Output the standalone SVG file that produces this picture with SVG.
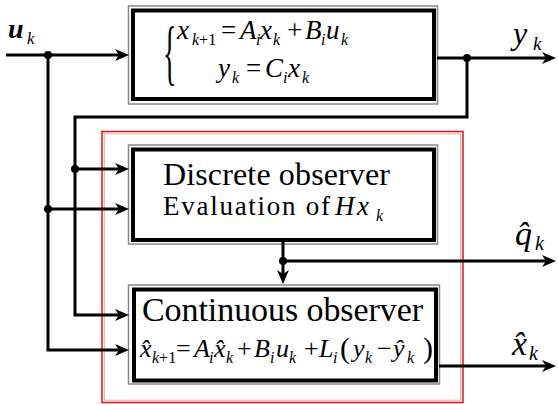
<svg xmlns="http://www.w3.org/2000/svg" width="558" height="405" viewBox="0 0 558 405">
<style>
text{font-family:"Liberation Serif","Times New Roman",serif;fill:#000}
.it{font-style:italic}
.m{font-size:27px}
.m2{font-size:26px}
.s{font-size:16px}
.wire{fill:none;stroke:#000;stroke-width:3}
.dot{fill:#000}
.bo{fill:#fff;stroke:#888;stroke-width:1.5}
.bi{fill:none;stroke:#000;stroke-width:4}
</style>
<defs>
<marker id="ah" viewBox="0 0 14 12" refX="8" refY="6" markerWidth="14" markerHeight="12" markerUnits="userSpaceOnUse" orient="auto">
<path d="M0,0 L14,6 L0,12 L4,6 Z" fill="#000"/>
</marker>
</defs>
<rect width="558" height="405" fill="#fff"/>

<g id="observer-frame">
<rect x="102" y="131.5" width="361" height="271" fill="none" stroke="#e41010" stroke-width="1.5"/>
<rect x="104.3" y="133.8" width="356.4" height="266.4" fill="none" stroke="#f7a0a0" stroke-width="1"/>
</g>

<g id="plant">
<rect class="bo" x="128.5" y="6" width="309" height="98"/>
<rect class="bi" x="133" y="10.5" width="301" height="88.5"/>
<text x="163" y="29.3" font-size="28" transform="scale(1,2.6)">{</text>
<text class="m"><tspan class="it" x="177" y="39">x</tspan><tspan class="s it" x="192" y="45">k</tspan><tspan class="s" y="45">+1</tspan><tspan x="221" y="39">=</tspan><tspan class="it" x="240" y="39">A</tspan><tspan class="s it" x="256" y="45">i</tspan><tspan class="it" x="260" y="39">x</tspan><tspan class="s it" x="273" y="45">k</tspan><tspan x="287" y="39">+</tspan><tspan class="it" x="305" y="39">B</tspan><tspan class="s it" x="321" y="45">i</tspan><tspan class="it" x="326" y="39">u</tspan><tspan class="s it" x="341" y="45">k</tspan></text>
<text class="m"><tspan class="it" x="218" y="77">y</tspan><tspan class="s it" x="232" y="83">k</tspan><tspan x="246" y="77">=</tspan><tspan class="it" x="265" y="77">C</tspan><tspan class="s it" x="283" y="83">i</tspan><tspan class="it" x="288" y="77">x</tspan><tspan class="s it" x="302" y="83">k</tspan></text>
</g>

<g id="discrete-observer">
<rect class="bo" x="128.5" y="145" width="309" height="99"/>
<rect class="bi" x="133" y="149.5" width="301" height="90.5"/>
<text x="163" y="185" font-size="32" textLength="227" lengthAdjust="spacing">Discrete observer</text>
<text x="163" y="215" font-size="27" textLength="167" lengthAdjust="spacing">Evaluation of</text>
<text font-size="27" class="it"><tspan x="335" y="215">H</tspan><tspan x="357" y="215">x</tspan><tspan x="376" y="221" font-size="16">k</tspan></text>
</g>

<g id="continuous-observer">
<rect class="bo" x="128.5" y="285" width="311" height="99"/>
<rect class="bi" x="134" y="289.5" width="302" height="91"/>
<text x="142" y="321" font-size="34" textLength="281" lengthAdjust="spacing">Continuous observer</text>
<text class="m2"><tspan class="it" x="140" y="357">x̂</tspan><tspan class="s it" x="152" y="363">k</tspan><tspan class="s" y="363">+1</tspan><tspan x="176" y="357">=</tspan><tspan class="it" x="194" y="357">A</tspan><tspan class="s it" x="209" y="363">i</tspan><tspan class="it" x="214" y="357">x̂</tspan><tspan class="s it" x="226" y="363">k</tspan><tspan x="237" y="357">+</tspan><tspan class="it" x="254" y="357">B</tspan><tspan class="s it" x="270" y="363">i</tspan><tspan class="it" x="276" y="357">u</tspan><tspan class="s it" x="289" y="363">k</tspan><tspan x="304" y="357">+</tspan><tspan class="it" x="319" y="357">L</tspan><tspan class="s it" x="333" y="363">i</tspan><tspan x="340" y="358" font-size="30">(</tspan><tspan class="it" x="353" y="357">y</tspan><tspan class="s it" x="365" y="363">k</tspan><tspan x="377" y="357">−</tspan><tspan class="it" x="393" y="357">ŷ</tspan><tspan class="s it" x="407" y="363">k</tspan><tspan x="423" y="358" font-size="30">)</tspan></text>
</g>

<g id="connectors">
<path class="wire" d="M6,55 H123" marker-end="url(#ah)"/>
<path class="wire" d="M48,55 V350 H123" marker-end="url(#ah)"/>
<path class="wire" d="M48,209 H123" marker-end="url(#ah)"/>
<path class="wire" d="M437,58 H550" marker-end="url(#ah)"/>
<path class="wire" d="M467,58 V117 H75 V315 H123" marker-end="url(#ah)"/>
<path class="wire" d="M75,169 H123" marker-end="url(#ah)"/>
<path class="wire" d="M283,241 V278" marker-end="url(#ah)"/>
<path class="wire" d="M283,261 H550" marker-end="url(#ah)"/>
<path class="wire" d="M439,366 H550" marker-end="url(#ah)"/>
<circle class="dot" cx="48" cy="55" r="4"/>
<circle class="dot" cx="48" cy="209" r="4"/>
<circle class="dot" cx="467" cy="58" r="4"/>
<circle class="dot" cx="75" cy="169" r="4"/>
<circle class="dot" cx="283" cy="261" r="4"/>
</g>

<g id="labels">
<text x="8" y="38" font-size="28" font-weight="bold" class="it">u</text>
<text x="27" y="44" font-size="17" class="it">k</text>
<text x="513" y="44" font-size="32" class="it">y</text>
<text x="533" y="50" font-size="19" class="it">k</text>
<text x="515" y="245" font-size="34" class="it">q̂</text>
<text x="535" y="250" font-size="20" class="it">k</text>
<text x="512" y="355" font-size="34" class="it">x̂</text>
<text x="529" y="360" font-size="20" class="it">k</text>
</g>
</svg>
